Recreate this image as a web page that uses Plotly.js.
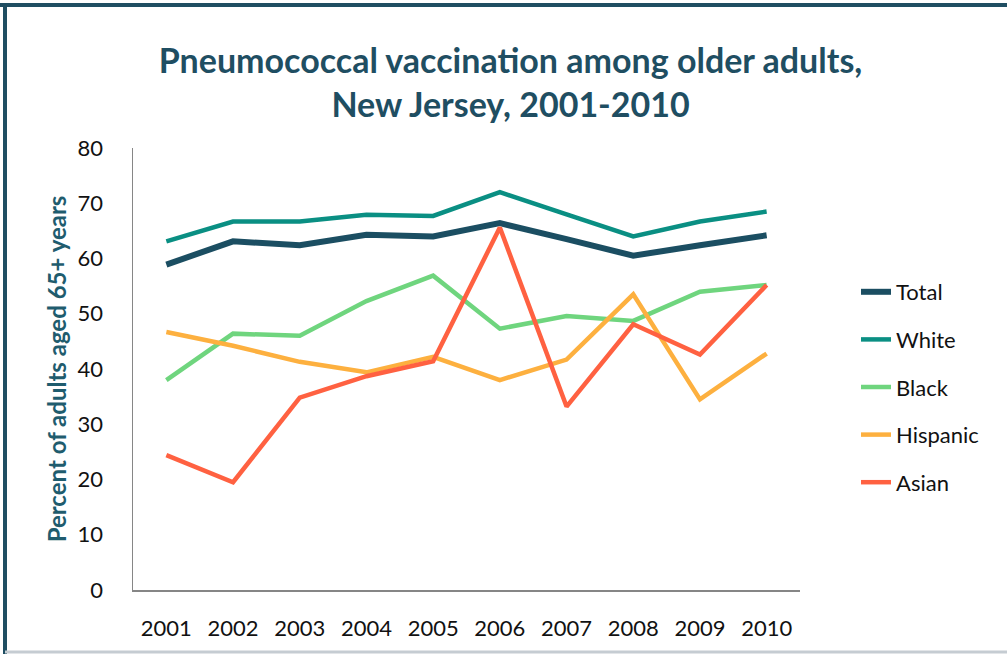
<!DOCTYPE html>
<html>
<head>
<meta charset="utf-8">
<script src="https://cdn.plot.ly/plotly-3.0.1.min.js"></script>
<style>
html,body{margin:0;padding:0;background:#fff;}
#chart{width:1007px;height:654px;}
</style>
</head>
<body>
<div id="chart"></div>
<script>
var years = ["2001","2002","2003","2004","2005","2006","2007","2008","2009","2010"];
var total    = [58.9, 63.1, 62.4, 64.3, 64.0, 66.4, 63.5, 60.5, 62.4, 64.2];
var white    = [63.1, 66.7, 66.7, 67.9, 67.7, 72.0, 68.0, 64.0, 66.7, 68.5];
var black    = [38.0, 46.4, 46.0, 52.3, 56.9, 47.3, 49.6, 48.7, 54.0, 55.2];
var hispanic = [46.7, 44.2, 41.3, 39.4, 42.2, 38.0, 41.7, 53.5, 34.5, 42.8];
var asian    = [24.4, 19.5, 34.8, 38.7, 41.4, 65.6, 33.2, 48.1, 42.6, 55.2];
var seriesNames = ["Total","White","Black","Hispanic","Asian"];
var seriesData = [total, white, black, hispanic, asian];
var seriesColors = ["#1b4e62","#0a8f83","#6fd57e","#fdb03f","#ff6141"];
var seriesWidths = [6, 4.5, 4.5, 4.5, 4.5];

var W = 1007, H = 654;
var m = {l:133, r:207, t:148, b:64};
var pw = W - m.l - m.r, ph = H - m.t - m.b;
function px(x){ return (x - m.l) / pw; }
function py(y){ return (H - m.b - y) / ph; }

var traces = seriesNames.map(function(n, i){
  return {
    x: years, y: seriesData[i], name: n, type: 'scatter', mode: 'lines',
    legendgroup: n,
    line: {color: seriesColors[i], width: seriesWidths[i]},
    hoverinfo: 'x+y+name'
  };
});

var layout = {
  width: W, height: H,
  margin: m,
  paper_bgcolor: '#fff', plot_bgcolor: '#fff',
  font: {family: 'Lato, "Open Sans", sans-serif', size: 22, color: '#111'},
  title: {
    text: '<b>Pneumococcal vaccination among older adults,<br>New Jersey, 2001-2010</b>',
    font: {family: 'Lato, "Open Sans", sans-serif', size: 34, color: '#1f4e62'},
    x: 0.507, xanchor: 'center', y: 0.889, yanchor: 'middle', xref: 'container', yref: 'container'
  },
  xaxis: {
    type: 'category', range: [-0.5, 9.5],
    showline: true, linecolor: '#868686', linewidth: 1.5,
    showgrid: false, zeroline: false, ticks: '', ticklabelstandoff: 18,
    tickfont: {size: 22, color: '#111'}
  },
  yaxis: {
    range: [0, 80], dtick: 10, tick0: 0,
    showline: true, linecolor: '#868686', linewidth: 1.5,
    showgrid: false, zeroline: false, ticks: '', ticklabelstandoff: 24,
    tickfont: {size: 22, color: '#111'},
    title: {text: '<b>Percent of adults aged 65+ years</b>', standoff: 4,
            font: {size: 24, color: '#1f5c6e'}}
  },
  legend: {
    x: px(856), xanchor: 'left', y: py(387), yanchor: 'middle',
    font: {size: 22, color: '#111'}, tracegroupgap: 16,
    bgcolor: 'rgba(0,0,0,0)'
  },
  shapes: [
    {type:'line', xref:'paper', yref:'paper', x0:px(0), x1:px(W), y0:py(5), y1:py(5), line:{color:'#1f4e62', width:4}},
    {type:'line', xref:'paper', yref:'paper', x0:px(5), x1:px(5), y0:py(3), y1:py(H), line:{color:'#1f4e62', width:4}},
    {type:'line', xref:'paper', yref:'paper', x0:px(5), x1:px(W), y0:py(652), y1:py(652), line:{color:'#c5ccd2', width:3}}
  ],
  showlegend: true
};

Plotly.newPlot('chart', traces, layout, {displayModeBar: false, staticPlot: true});
</script>
</body>
</html>
